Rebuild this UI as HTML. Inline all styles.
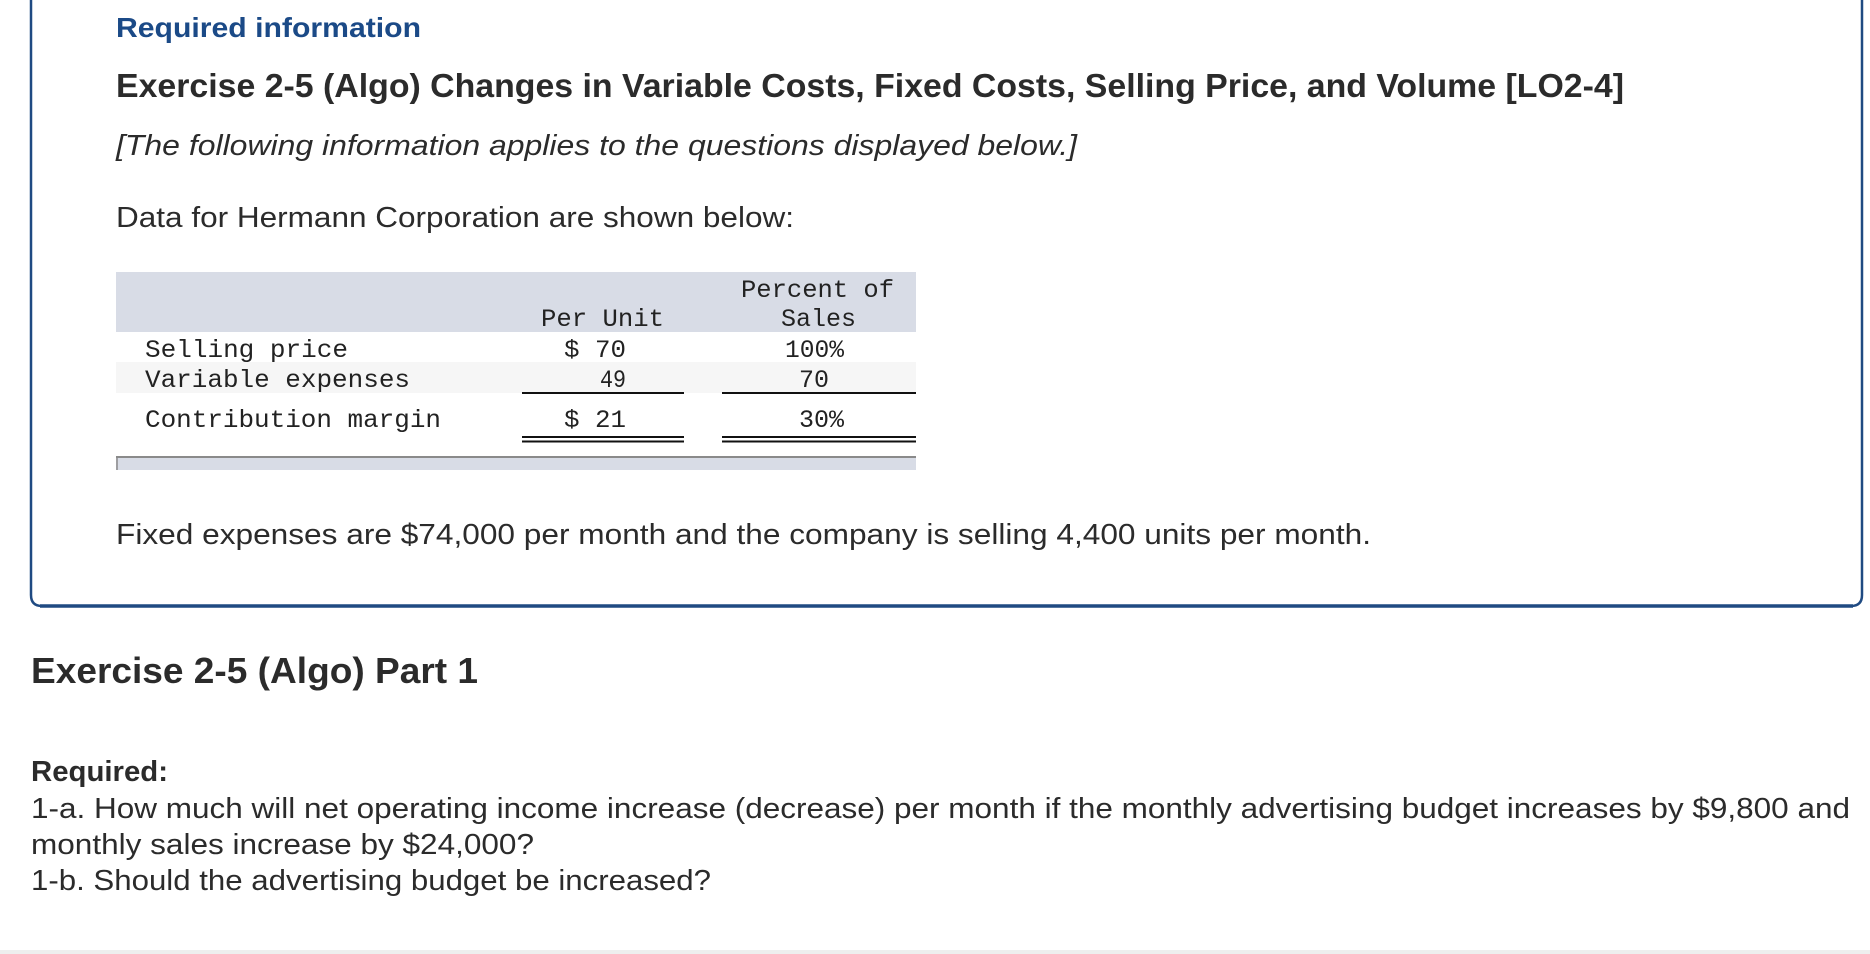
<!DOCTYPE html>
<html><head><meta charset="utf-8"><style>
html,body{margin:0;padding:0;background:#fff;}
svg{display:block;}
.s{font-family:"Liberation Sans",sans-serif;fill:#2b2b2b;}
.m{font-family:"Liberation Mono",monospace;fill:#222;font-size:25px;}
</style></head><body>
<svg width="1870" height="954" viewBox="0 0 1870 954">
<rect x="0" y="0" width="1870" height="954" fill="#fff"/>
<path d="M31 -20 V595 Q31 606 42 606 H1851 Q1862 606 1862 595 V-20" fill="none" stroke="#1f4a82" stroke-width="2.5"/>
<line x1="40" y1="606" x2="1853" y2="606" stroke="#1f4a82" stroke-width="3.5"/>
<text class="s" x="116" y="37" font-size="28" font-weight="bold" fill="#1b4a87" style="fill:#1b4a87" textLength="305" lengthAdjust="spacingAndGlyphs">Required information</text>
<text class="s" x="116" y="97" font-size="33" font-weight="bold" textLength="1508" lengthAdjust="spacingAndGlyphs">Exercise 2-5 (Algo) Changes in Variable Costs, Fixed Costs, Selling Price, and Volume [LO2-4]</text>
<text class="s" x="116" y="155" font-size="29" font-style="italic" textLength="961" lengthAdjust="spacingAndGlyphs">[The following information applies to the questions displayed below.]</text>
<text class="s" x="116" y="227" font-size="29" textLength="678" lengthAdjust="spacingAndGlyphs">Data for Hermann Corporation are shown below:</text>
<g>
<rect x="116" y="272" width="800" height="60" fill="#d8dce6"/>
<rect x="116" y="362" width="800" height="31" fill="#f6f6f6"/>
<line x1="522" y1="393" x2="684" y2="393" stroke="#111" stroke-width="2"/>
<line x1="722" y1="393" x2="916" y2="393" stroke="#111" stroke-width="2"/>
<line x1="522" y1="437" x2="684" y2="437" stroke="#111" stroke-width="2"/>
<line x1="522" y1="441.5" x2="684" y2="441.5" stroke="#111" stroke-width="2"/>
<line x1="722" y1="437" x2="916" y2="437" stroke="#111" stroke-width="2"/>
<line x1="722" y1="441.5" x2="916" y2="441.5" stroke="#111" stroke-width="2"/>
<rect x="116" y="456" width="800" height="14" fill="#d8dce6"/>
<line x1="116" y1="457" x2="916" y2="457" stroke="#8a8a8a" stroke-width="2"/>
<line x1="117" y1="457" x2="117" y2="470" stroke="#8a8a8a" stroke-width="1.5"/>
<text class="m" x="741" y="297" textLength="153" lengthAdjust="spacingAndGlyphs">Percent of</text>
<text class="m" x="541" y="326" textLength="123" lengthAdjust="spacingAndGlyphs">Per Unit</text>
<text class="m" x="781" y="326" textLength="75" lengthAdjust="spacingAndGlyphs">Sales</text>
<text class="m" x="145" y="357" textLength="203" lengthAdjust="spacingAndGlyphs">Selling price</text>
<text class="m" x="564" y="357" textLength="62" lengthAdjust="spacingAndGlyphs">$ 70</text>
<text class="m" x="785" y="357" textLength="59" lengthAdjust="spacingAndGlyphs">100%</text>
<text class="m" x="145" y="387" textLength="265" lengthAdjust="spacingAndGlyphs">Variable expenses</text>
<text class="m" x="600" y="387" textLength="26" lengthAdjust="spacingAndGlyphs">49</text>
<text class="m" x="799" y="387" textLength="30" lengthAdjust="spacingAndGlyphs">70</text>
<text class="m" x="145" y="427" textLength="296" lengthAdjust="spacingAndGlyphs">Contribution margin</text>
<text class="m" x="564" y="427" textLength="62" lengthAdjust="spacingAndGlyphs">$ 21</text>
<text class="m" x="799" y="427" textLength="45" lengthAdjust="spacingAndGlyphs">30%</text>
</g>
<text class="s" x="116" y="544" font-size="29" textLength="1255" lengthAdjust="spacingAndGlyphs">Fixed expenses are $74,000 per month and the company is selling 4,400 units per month.</text>
<text class="s" x="31" y="683" font-size="36" font-weight="bold" textLength="447" lengthAdjust="spacingAndGlyphs">Exercise 2-5 (Algo) Part 1</text>
<text class="s" x="31" y="781" font-size="29" font-weight="bold" textLength="137" lengthAdjust="spacingAndGlyphs">Required:</text>
<text class="s" x="31" y="818" font-size="29" textLength="1819" lengthAdjust="spacingAndGlyphs">1-a. How much will net operating income increase (decrease) per month if the monthly advertising budget increases by $9,800 and</text>
<text class="s" x="31" y="854" font-size="29" textLength="503" lengthAdjust="spacingAndGlyphs">monthly sales increase by $24,000?</text>
<text class="s" x="31" y="890" font-size="29" textLength="680" lengthAdjust="spacingAndGlyphs">1-b. Should the advertising budget be increased?</text>
<rect x="0" y="950" width="1870" height="4" fill="#eeeeee"/>
</svg>
</body></html>
